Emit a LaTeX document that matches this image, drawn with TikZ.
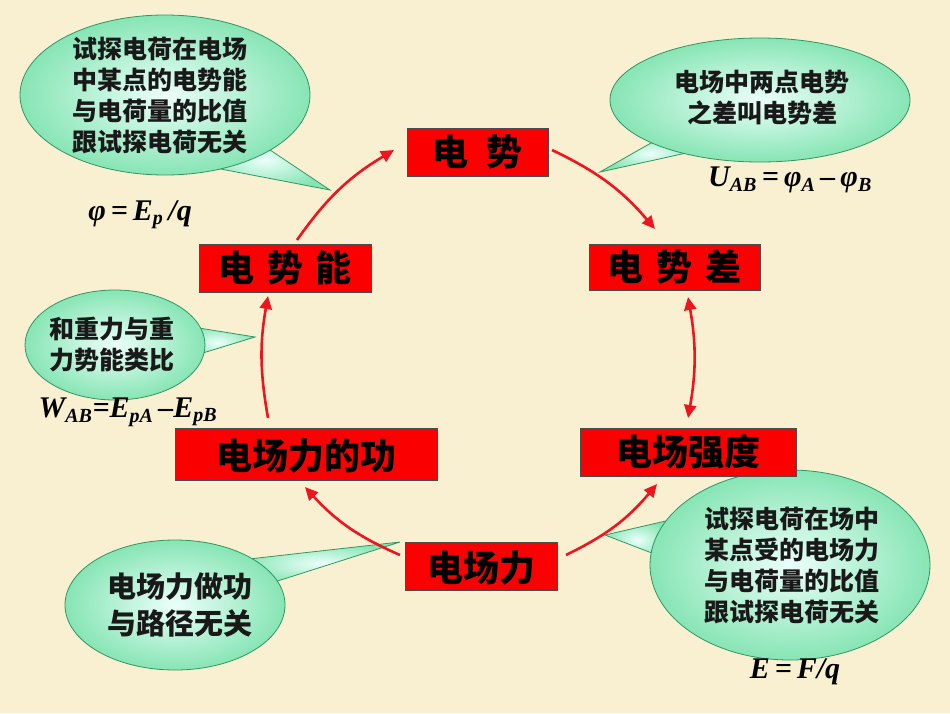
\documentclass[tikz,border=0pt]{standalone}
\usepackage{fontspec}
\setmainfont{Liberation Serif}
\newfontfamily\cjk{Noto Sans CJK SC}
\newfontfamily\fml{Liberation Serif}
\usetikzlibrary{arrows.meta,shapes.geometric}
\definecolor{bg}{RGB}{248,240,208}
\definecolor{boxred}{RGB}{250,0,0}
\definecolor{arrred}{RGB}{240,20,30}
\definecolor{cgreen}{RGB}{70,215,140}
\definecolor{clight}{RGB}{235,255,250}
\newcommand{\sbs}[1]{\textsubscript{\fontsize{20}{20}\selectfont #1}}
\tikzset{
  kbox/.style={draw=black!70,fill=boxred,line width=0.8pt,inner sep=0pt},
  ktext/.style={font=\cjk\bfseries\fontsize{36}{38}\selectfont,text=black},
  ctext/.style={font=\cjk\bfseries\fontsize{25}{31}\selectfont,align=center,text=black!90},
  ftext/.style={font=\fml\bfseries\itshape\fontsize{30}{32}\selectfont},
  carr/.style={draw=arrred,line width=2.6pt,-{Triangle[length=13pt,width=12pt]}},
  bubble/.style={draw=cgreen!70!black,line width=0.8pt,inner color=clight,outer color=cgreen!65}
}
\begin{document}
\begin{tikzpicture}[x=1pt,y=-1pt]
\fill[bg] (0,0) rectangle (950,713);
\useasboundingbox (0,0) rectangle (950,713);
% callouts
\path[bubble] (240,130) -- (330,190) -- (200,165) -- cycle;
\path[bubble] (165,95) ellipse [x radius=145,y radius=80];
\path[bubble] (665,135) -- (600,172) -- (700,150) -- cycle;
\path[bubble] (760,100) ellipse [x radius=150,y radius=62];
\path[bubble] (180,325) -- (255,337) -- (180,360) -- cycle;
\path[bubble] (115,345) ellipse [x radius=90,y radius=55];
\path[bubble] (240,560) -- (400,542) -- (265,585) -- cycle;
\path[bubble] (175,605) ellipse [x radius=110,y radius=65];
\path[bubble] (670,520) -- (605,535) -- (670,560) -- cycle;
\path[bubble] (790,565) ellipse [x radius=140,y radius=95];
\node[ctext] (c1) at (160,96) {试探电荷在电场\\中某点的电势能\\与电荷量的比值\\跟试探电荷无关};
\node[ctext] (c2) at (762,98) {电场中两点电势\\之差叫电势差};
\node[ctext] (c3) at (112,345) {和重力与重\\力势能类比};
\node[ctext,font=\cjk\bfseries\fontsize{29}{37}\selectfont] (c4) at (180,605) {电场力做功\\与路径无关};
\node[ctext] (c5) at (792,566) {试探电荷在场中\\某点受的电场力\\与电荷量的比值\\跟试探电荷无关};
% formulas
\node[ftext] (f1) at (140,215) {φ\,=\,E\sbs{p}\,/q};
\node[ftext] (f2) at (790,180) {U\sbs{AB}\,=\,φ\sbs{A}\,–\,φ\sbs{B}};
\node[ftext] (f3) at (128,412) {W\sbs{AB}=E\sbs{pA}\,–E\sbs{pB}};
\node[ftext] (f4) at (795,672) {E\,=\,F/q};
% boxes
\node[kbox,minimum width=141,minimum height=48] (b1) at (477.5,152) {};
\node[ktext] at (477.5,152) {电\hspace{0.5em}势};
\node[kbox,minimum width=172,minimum height=48] (b2) at (285,268) {};
\node[ktext] at (285,268) {电\hspace{0.35em}势\hspace{0.35em}能};
\node[kbox,minimum width=171,minimum height=46] (b3) at (674.5,267) {};
\node[ktext] at (674.5,267) {电\hspace{0.35em}势\hspace{0.35em}差};
\node[kbox,minimum width=262,minimum height=52] (b4) at (306,454) {};
\node[ktext] at (306,456) {电场力的功};
\node[kbox,minimum width=216,minimum height=48] (b5) at (688,452) {};
\node[ktext] at (688,452) {电场强度};
\node[kbox,minimum width=152,minimum height=48] (b6) at (481,566) {};
\node[ktext] at (481,568) {电场力};
% arrows
\coordinate (a1s) at (297,240); \coordinate (a1e) at (394,150);
\draw[carr] (a1s) to[bend left=12] (a1e);
\coordinate (a2s) at (552,150); \coordinate (a2e) at (655,229);
\draw[carr] (a2s) to[bend left=12] (a2e);
\coordinate (a3s) at (688,297); \coordinate (a3e) at (688,418);
\draw[carr,{Triangle[length=13pt,width=12pt]}-{Triangle[length=13pt,width=12pt]}] (a3s) to[bend left=10] (a3e);
\coordinate (a4s) at (566,555); \coordinate (a4e) at (657,484);
\draw[carr] (a4s) to[bend right=12] (a4e);
\coordinate (a5s) at (400,555); \coordinate (a5e) at (305,487);
\draw[carr] (a5s) to[bend left=12] (a5e);
\coordinate (a6s) at (268,418); \coordinate (a6e) at (268,296);
\draw[carr] (a6s) to[bend left=10] (a6e);
\end{tikzpicture}
\end{document}
